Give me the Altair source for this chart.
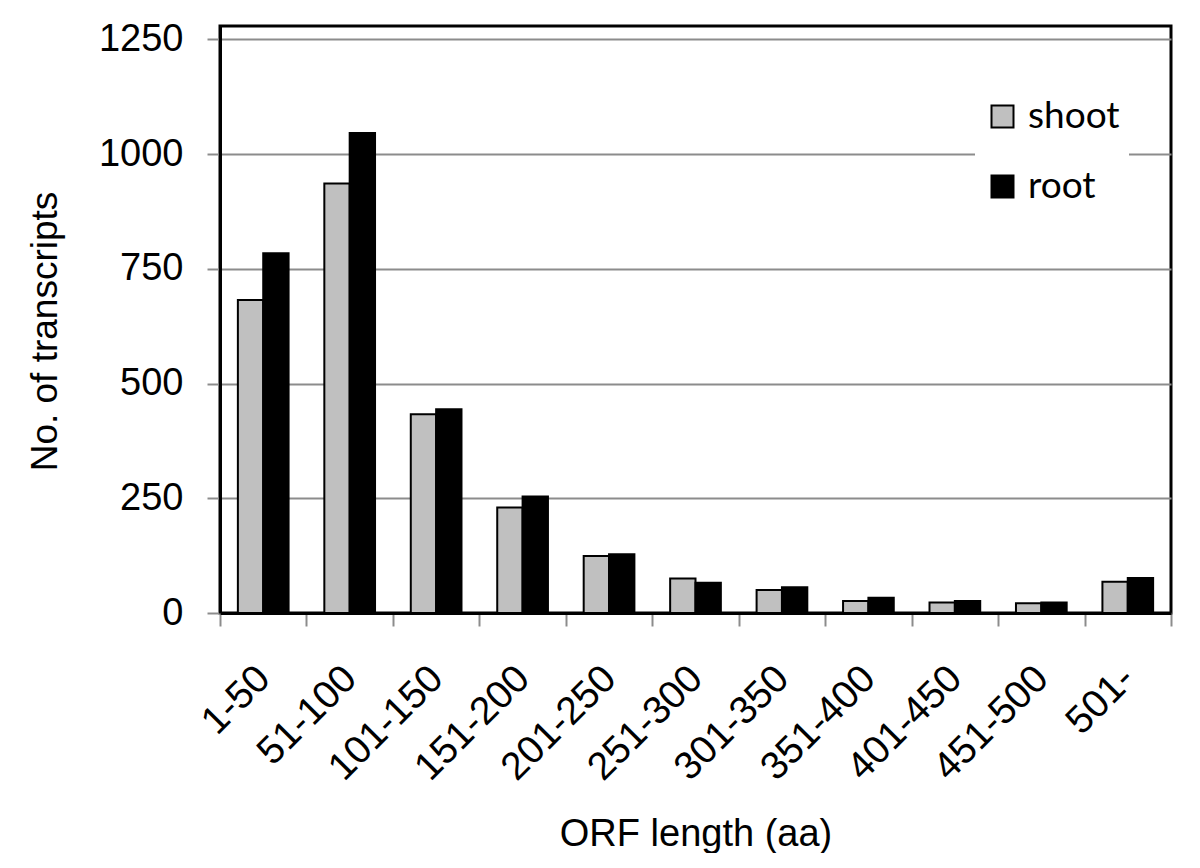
import altair as alt
import pandas as pd

categories = ["1-50", "51-100", "101-150", "151-200", "201-250", "251-300",
              "301-350", "351-400", "401-450", "451-500", "501-"]
shoot = [682, 936, 433, 230, 124, 75, 50, 26, 23, 21, 68]
root = [784, 1046, 444, 254, 128, 66, 56, 33, 26, 23, 76]
series = ["shoot", "root"]
y_ticks = [0, 250, 500, 750, 1000, 1250]

rows = []
for c, s, r in zip(categories, shoot, root):
    rows.append({"cat": c, "series": "shoot", "value": s})
    rows.append({"cat": c, "series": "root", "value": r})
df = pd.DataFrame(rows)

AXFONT = "Liberation Sans"

chart = alt.Chart(df).mark_bar(stroke="black", strokeWidth=2).encode(
    x=alt.X("cat:N", sort=categories,
            scale=alt.Scale(paddingInner=0, paddingOuter=0),
            axis=alt.Axis(title="ORF length (aa)", labelAngle=-45,
                          labelAlign="right", labelBaseline="middle",
                          tickBand="extent", tickSize=13, tickColor="#8c8c8c",
                          tickWidth=2, domainColor="black", domainWidth=3,
                          labelFont=AXFONT, labelFontSize=39, labelColor="black",
                          labelPadding=46,
                          titleFont=AXFONT, titleFontSize=38, titleFontWeight="normal",
                          titleColor="black", titleBaseline="alphabetic", titleY=232)),
    xOffset=alt.XOffset("series:N", sort=series,
                        scale=alt.Scale(paddingOuter=0.705, paddingInner=0)),
    y=alt.Y("value:Q",
            scale=alt.Scale(domain=[0, 1279], nice=False),
            axis=alt.Axis(title="No. of transcripts", values=y_ticks, format="d",
                          tickSize=13, tickColor="#8c8c8c", tickWidth=2,
                          domainColor="black", domainWidth=3,
                          gridColor="#8c8c8c", gridWidth=2,
                          labelFont=AXFONT, labelFontSize=38, labelColor="black",
                          labelPadding=24,
                          titleFont=AXFONT, titleFontSize=37, titleFontWeight="normal",
                          titleColor="black", titleBaseline="middle",
                          titleX=-175, titleY=305, titleAlign="center")),
    fill=alt.Fill("series:N", sort=series,
                  scale=alt.Scale(domain=series, range=["#c0c0c0", "#000000"]),
                  legend=alt.Legend(title=None, orient="none", legendX=755, legendY=63,
                                    fillColor="white", padding=9,
                                    symbolType="square", symbolSize=484,
                                    symbolStrokeColor="black", symbolStrokeWidth=2,
                                    labelFont="Lato", labelFontSize=37, labelColor="black",
                                    labelOffset=7, rowPadding=32)),
).properties(
    width=951, height=587,
    autosize=alt.AutoSizeParams(type="none"),
    padding={"left": 212, "top": 18, "right": 20, "bottom": 240},
).configure_view(
    stroke="black", strokeWidth=3
).configure_axis(
    grid=False
).configure_axisY(
    grid=True
)

chart.save("out.html", embed_options={"renderer": "svg", "actions": False})
